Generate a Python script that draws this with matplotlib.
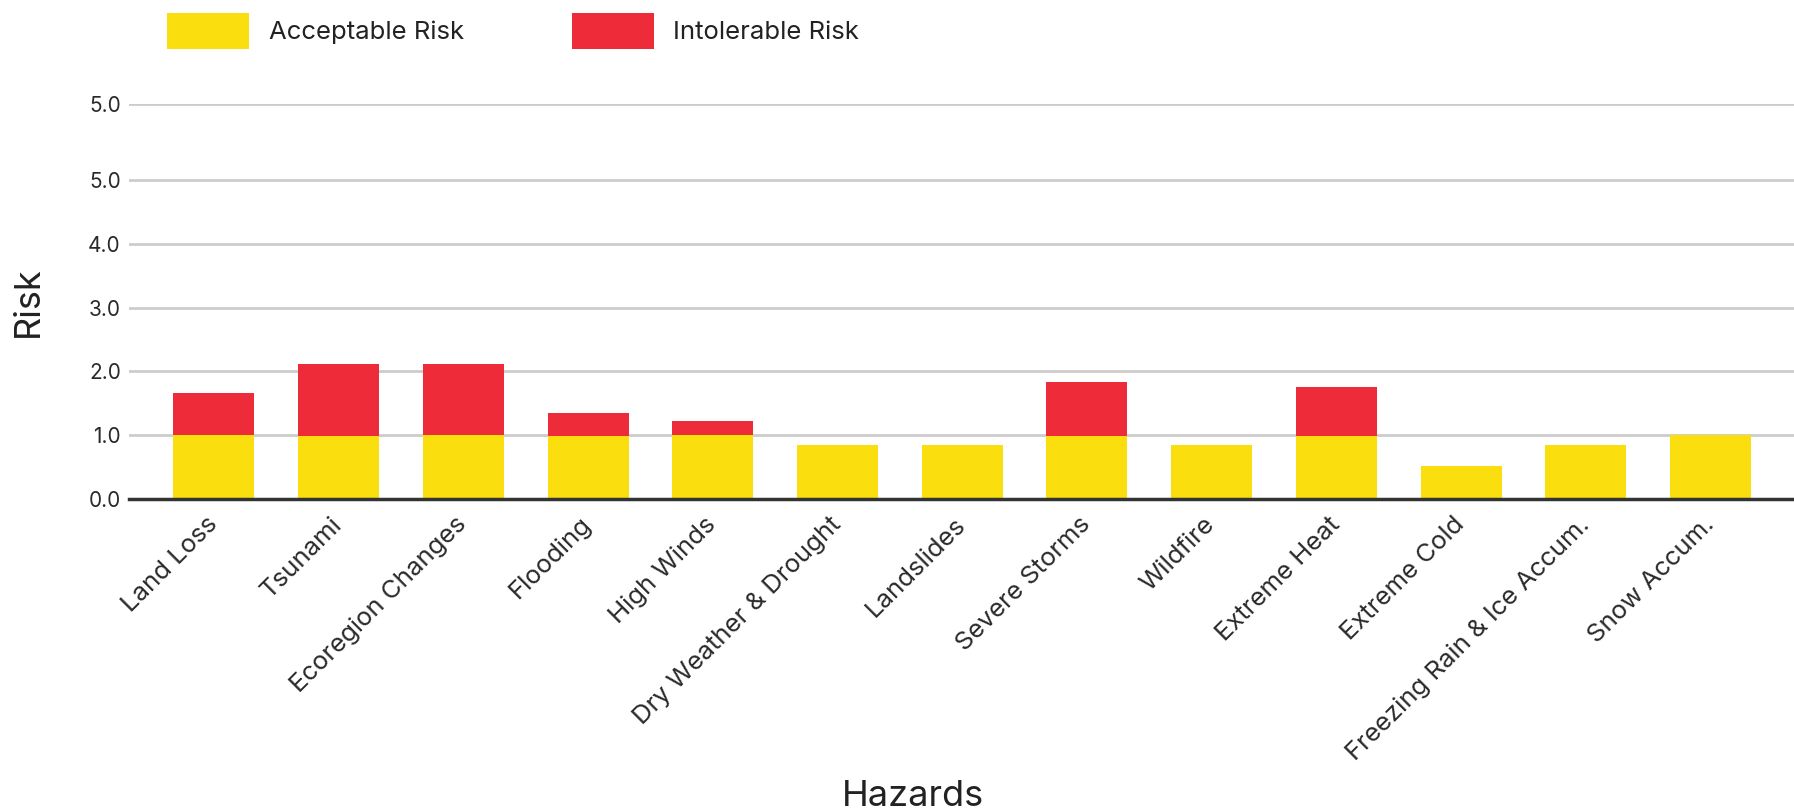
import matplotlib.pyplot as plt
import numpy as np

plt.rcParams['font.family'] = ['Inter', 'DejaVu Sans']

# data
hazards = ["Land Loss", "Tsunami", "Ecoregion Changes", "Flooding", "High Winds",
           "Dry Weather & Drought", "Landslides", "Severe Storms", "Wildfire",
           "Extreme Heat", "Extreme Cold", "Freezing Rain & Ice Accum.", "Snow Accum."]
acceptable = [1.0, 0.98, 1.0, 0.98, 1.0, 0.84, 0.84, 0.98, 0.84, 0.98, 0.51, 0.84, 1.0]
intolerable = [0.66, 1.13, 1.11, 0.36, 0.22, 0, 0, 0.85, 0, 0.78, 0, 0, 0]
y_ticks = [0, 1, 2, 3, 4, 5, 6.2]
y_labels = ["0.0", "1.0", "2.0", "3.0", "4.0", "5.0", "5.0"]

YELLOW = "#FBDE0E"
RED = "#EE2B39"

fig = plt.figure(figsize=(17.94, 8.10), dpi=100)
ax = fig.add_axes([0.072, 0.3843, 0.928, 0.4877])

x = np.arange(len(hazards))
ax.bar(x, acceptable, width=0.65, color=YELLOW, label="Acceptable Risk", zorder=3)
ax.bar(x, intolerable, width=0.65, bottom=acceptable, color=RED,
       label="Intolerable Risk", zorder=3)

ax.set_xlim(-0.68, 12.67)
ax.set_ylim(0, 6.2)
ax.set_yticks(y_ticks)
ax.set_yticklabels(y_labels, fontsize=15, color="#2a2a2a")
ax.set_xticks(x)
ax.set_xticklabels(hazards, rotation=45, ha="right", va="center",
                   rotation_mode="anchor", fontsize=18.5, color="#2a2a2a")
ax.tick_params(axis="both", length=0)
ax.tick_params(axis="y", pad=6)
ax.tick_params(axis="x", pad=16)

ax.grid(axis="y", color="#CCCCCC", linewidth=2, zorder=0)
for s in ["top", "right", "left"]:
    ax.spines[s].set_visible(False)
ax.spines["bottom"].set_color("#333333")
ax.spines["bottom"].set_linewidth(2.5)
ax.spines["bottom"].set_zorder(4)

ax.set_ylabel("Risk", fontsize=26, color="#222222")
ax.yaxis.set_label_coords(-0.0505, 0.5)
fig.text(0.509, 0.017, "Hazards", fontsize=26, color="#222222", ha="center", va="center")

fig.legend(loc="upper left", bbox_to_anchor=(0.086, 1.0), ncol=2, frameon=False,
           fontsize=18.5, handlelength=3.2, handleheight=1.78, handletextpad=0.75,
           columnspacing=4.2, borderaxespad=0.1, labelcolor="#222222")

fig.savefig("out.png", dpi=100)
